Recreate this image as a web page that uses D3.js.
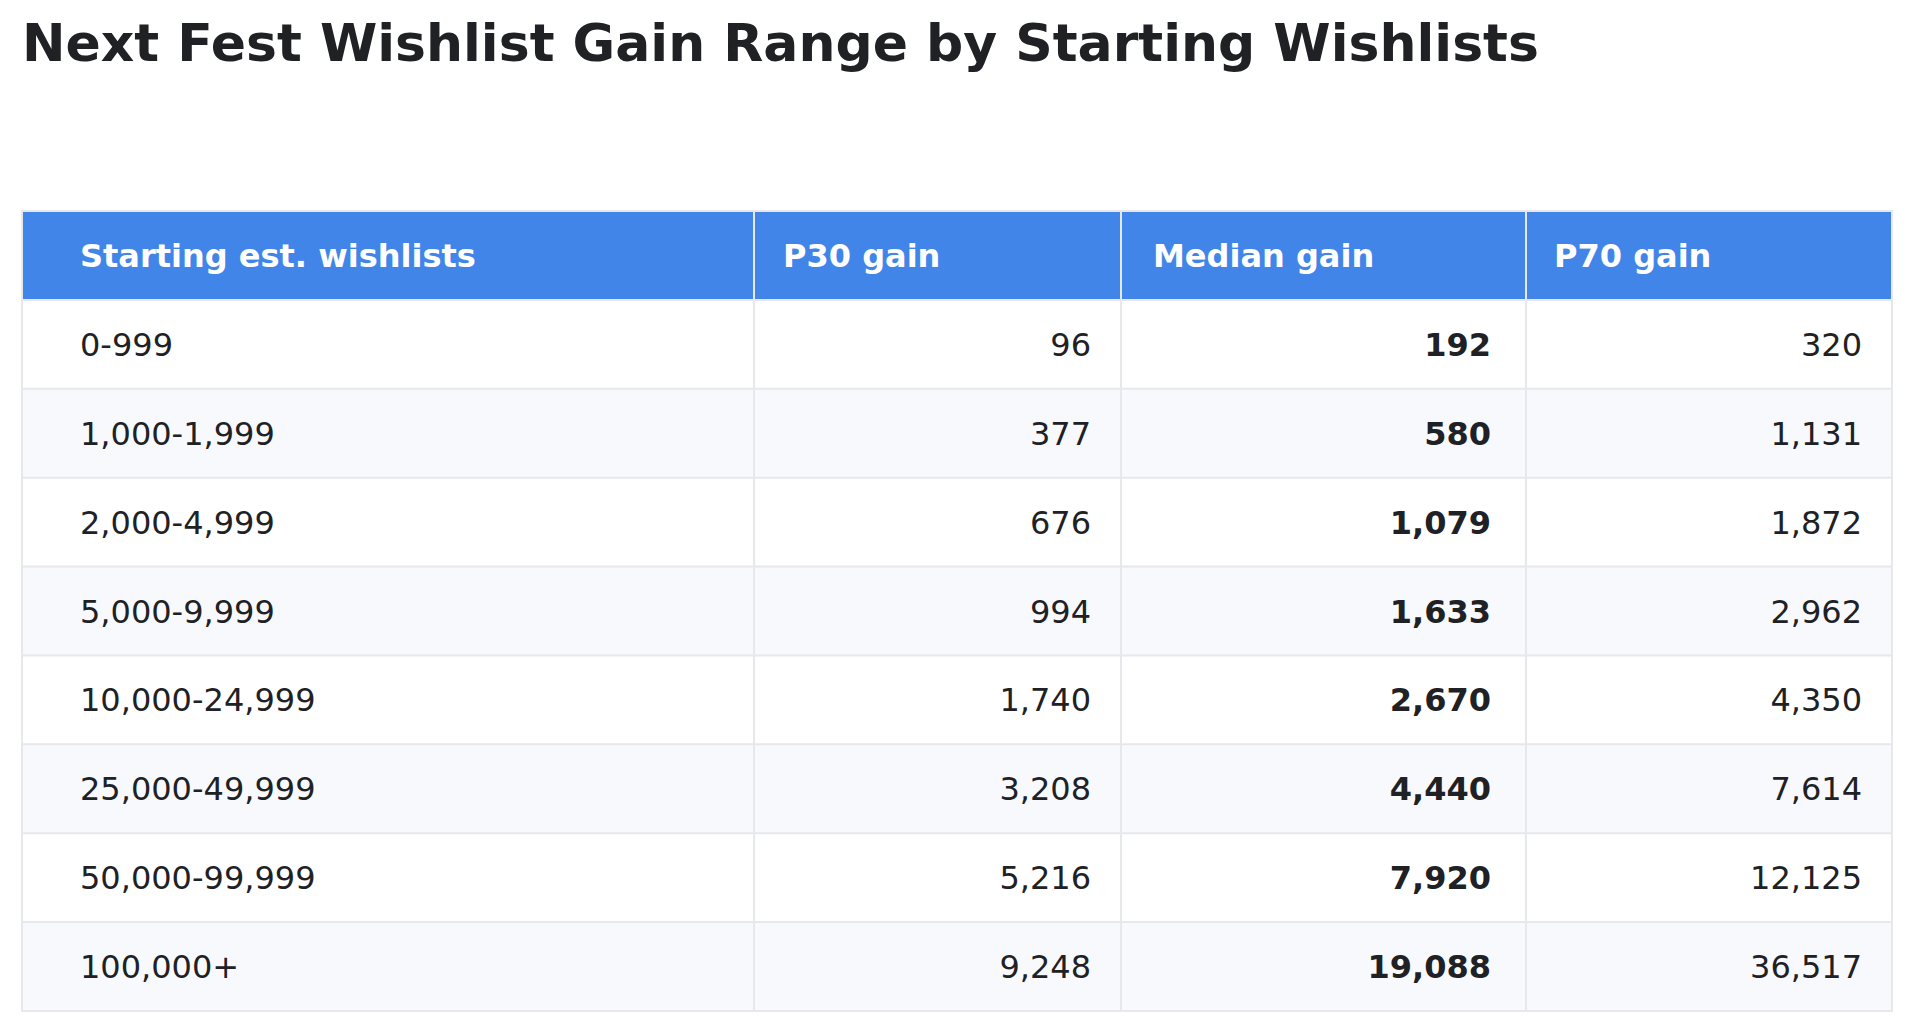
<!DOCTYPE html>
<html>
<head>
<meta charset="utf-8">
<script src="https://cdn.jsdelivr.net/npm/d3@7"></script>
<style>
    html, body { margin: 0; padding: 0; background: #fff; }
    svg { display: block; font-family: "DejaVu Sans", sans-serif; }
</style>
</head>
<body>
<div id="chart"></div>
<script>
const title = "Next Fest Wishlist Gain Range by Starting Wishlists";
const headers = ["Starting est. wishlists", "P30 gain", "Median gain", "P70 gain"];
const ranges = ["0-999", "1,000-1,999", "2,000-4,999", "5,000-9,999",
    "10,000-24,999", "25,000-49,999", "50,000-99,999", "100,000+"];
const p30Gain = [96, 377, 676, 994, 1740, 3208, 5216, 9248];
const medianGain = [192, 580, 1079, 1633, 2670, 4440, 7920, 19088];
const p70Gain = [320, 1131, 1872, 2962, 4350, 7614, 12125, 36517];

function drawTable(selector) {
    const width = 1914;
    const height = 1033;
    const table = { left: 22, right: 1892, top: 211, bottom: 1011 };
    const colWidths = [732, 367, 405, 366];
    const padLeft = [58, 29, 32, 28];
    const padRight = [0, 30, 35, 30];
    const border = "#e6e8ec";
    const fmt = d3.format(",");

    const svg = d3.select(selector).append("svg")
        .attr("width", width)
        .attr("height", height);

    svg.append("text")
        .attr("x", 22)
        .attr("y", 61)
        .style("font-size", "52px")
        .style("font-weight", "bold")
        .style("fill", "#202124")
        .text(title);

    // row scale (header + body rows), column scale from widths
    const y = d3.scaleBand()
        .domain(["header", ...ranges])
        .range([table.top, table.bottom]);
    const edges = [0, ...d3.cumsum(colWidths)];
    const x = d3.scaleLinear()
        .domain([0, d3.sum(colWidths)])
        .range([table.left, table.right]);
    const colX = i => x(edges[i]);
    const colW = i => x(edges[i + 1]) - x(edges[i]);

    const rows = ranges.map((r, i) => [r, fmt(p30Gain[i]), fmt(medianGain[i]), fmt(p70Gain[i])]);

    // header
    svg.append("rect")
        .attr("x", table.left)
        .attr("y", y("header"))
        .attr("width", table.right - table.left)
        .attr("height", y.bandwidth())
        .style("fill", "#4285e8");

    // striped body rows
    svg.selectAll(".row-bg")
        .data(ranges)
        .enter()
        .append("rect")
        .attr("class", "row-bg")
        .attr("x", table.left)
        .attr("y", d => y(d))
        .attr("width", table.right - table.left)
        .attr("height", y.bandwidth())
        .style("fill", (d, i) => i % 2 ? "#f8f9fd" : "#ffffff");

    // grid lines
    svg.selectAll(".hline")
        .data(y.domain().slice(1))
        .enter()
        .append("line")
        .attr("x1", table.left)
        .attr("x2", table.right)
        .attr("y1", d => y(d))
        .attr("y2", d => y(d))
        .style("stroke", border)
        .style("stroke-width", 2);

    svg.selectAll(".vline")
        .data(d3.range(1, headers.length))
        .enter()
        .append("line")
        .attr("x1", d => colX(d))
        .attr("x2", d => colX(d))
        .attr("y1", table.top)
        .attr("y2", table.bottom)
        .style("stroke", border)
        .style("stroke-width", 2);

    svg.append("rect")
        .attr("x", table.left)
        .attr("y", table.top)
        .attr("width", table.right - table.left)
        .attr("height", table.bottom - table.top)
        .style("fill", "none")
        .style("stroke", border)
        .style("stroke-width", 2);

    // header labels
    svg.selectAll(".head")
        .data(headers)
        .enter()
        .append("text")
        .attr("class", "head")
        .attr("x", (d, i) => colX(i) + padLeft[i])
        .attr("y", y("header") + y.bandwidth() / 2)
        .attr("dy", "0.36em")
        .style("font-size", "32px")
        .style("font-weight", "bold")
        .style("fill", "#ffffff")
        .text(d => d);

    // body cells
    const rowG = svg.selectAll(".row")
        .data(rows)
        .enter()
        .append("g")
        .attr("class", "row")
        .attr("transform", (d, i) => `translate(0,${y(ranges[i]) + y.bandwidth() / 2})`);

    rowG.selectAll("text")
        .data(d => d)
        .enter()
        .append("text")
        .attr("x", (d, i) => i === 0 ? colX(i) + padLeft[i] : colX(i) + colW(i) - padRight[i])
        .attr("dy", "0.36em")
        .attr("text-anchor", (d, i) => i === 0 ? "start" : "end")
        .style("font-size", "32px")
        .style("font-weight", (d, i) => i === 2 ? "bold" : "normal")
        .style("fill", "#202124")
        .text(d => d);
}

drawTable("#chart");
</script>
</body>
</html>
